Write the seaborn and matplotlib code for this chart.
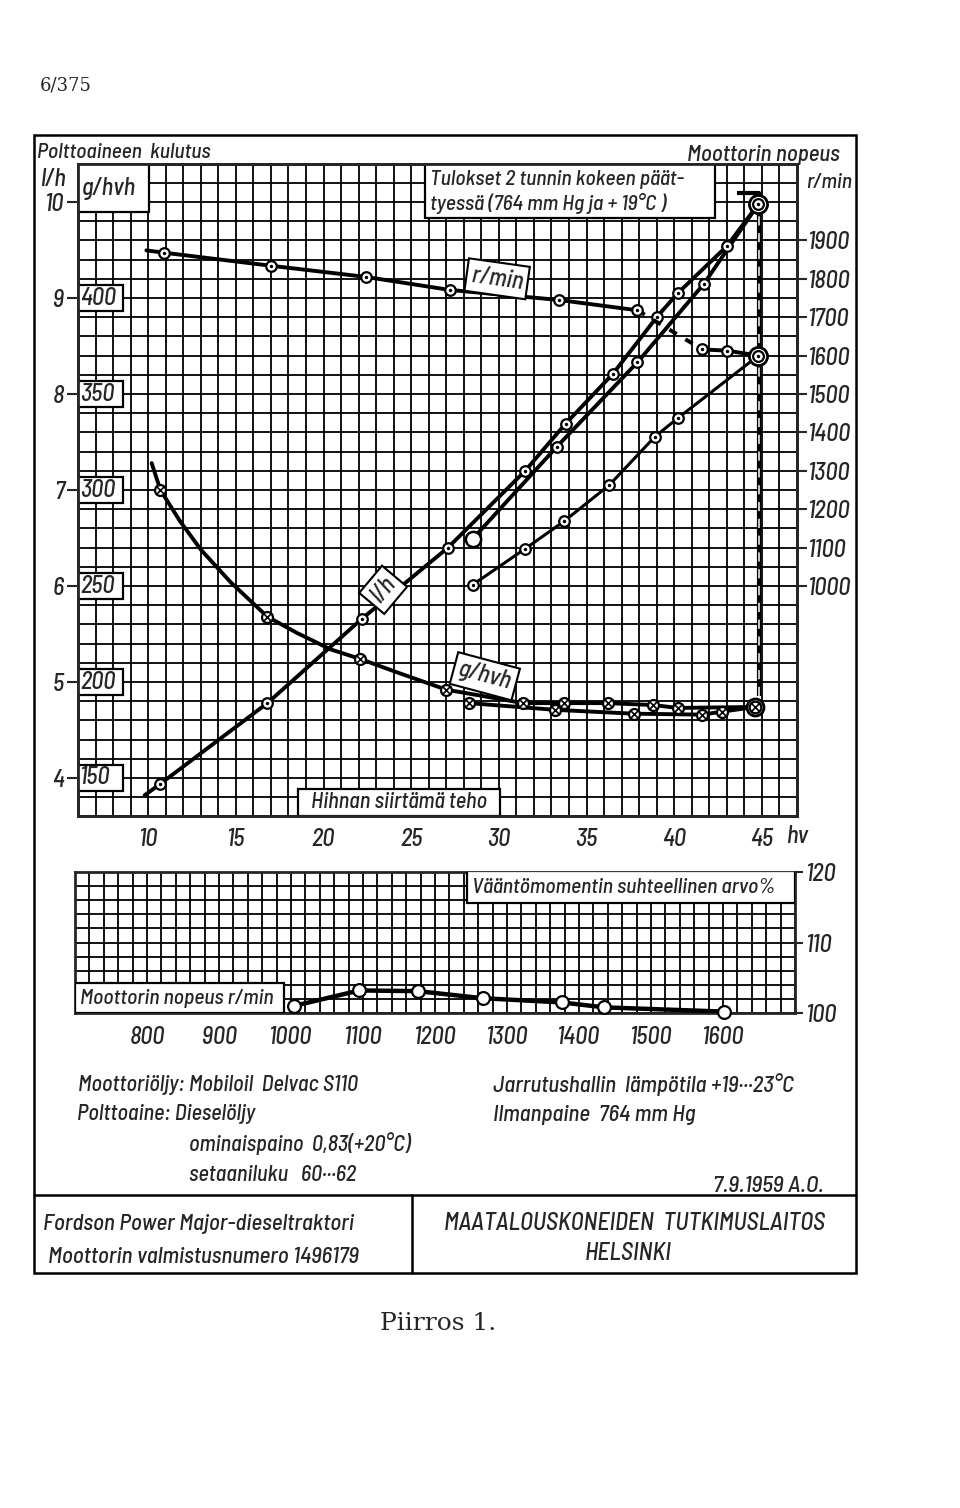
import numpy as np
import pandas as pd
import matplotlib
matplotlib.use("Agg")
import matplotlib.pyplot as plt
import seaborn as sns
from matplotlib import font_manager
from matplotlib.patches import Rectangle
from matplotlib.lines import Line2D

sns.set_style("white")

# pick a narrow lettering face that is installed
installed = {f.name for f in font_manager.fontManager.ttflist}
FAMILY = 'DejaVu Sans'
for name in ['Barlow Semi Condensed', 'Barlow Condensed', 'Archivo Narrow', 'Liberation Sans Narrow']:
    if name in installed:
        FAMILY = name
        break
STRETCH = 'condensed' if FAMILY == 'DejaVu Sans' else 'normal'

plt.rcParams['font.family'] = [FAMILY, 'DejaVu Sans']
plt.rcParams['font.style'] = 'italic'
plt.rcParams['font.weight'] = 'medium'
plt.rcParams['font.stretch'] = STRETCH
plt.rcParams['axes.unicode_minus'] = False

# ---- data ----
# fuel l/h, governed range (first point = start of drawn line)
lh_hv = [9.8, 10.7, 16.8, 22.2, 27.1, 31.5, 33.8, 36.5, 39.0, 40.2, 43.0, 44.8]
lh_val = [3.82, 3.94, 4.78, 5.66, 6.40, 7.20, 7.69, 8.21, 8.80, 9.05, 9.54, 9.98]
# fuel l/h, full throttle below rated speed
lh_lug_hv = [28.5, 33.3, 37.9, 41.7, 44.8]
lh_lug_val = [6.49, 7.45, 8.33, 9.15, 9.98]

# specific consumption g/hvh (governed), extra points trace the drawn curve
g_hv = [10.2, 10.7, 11.8, 13.0, 14.7, 16.8, 18.5, 20.4, 22.1, 24.2, 27.0, 31.4, 33.7, 36.2, 38.8, 40.2, 44.6]
g_val = [314, 300, 284, 269, 252, 234, 225.5, 217, 212, 205, 196, 189, 189, 189, 188, 186.5, 187]
g_marked = [1, 5, 8, 10, 11, 12, 13, 14, 15, 16]
g_lug_hv = [28.3, 33.2, 37.7, 41.6, 42.7, 44.6]
g_lug_val = [189, 185.5, 183.5, 183, 184.5, 187]

# engine speed r/min
rpm_hv = [9.9, 10.9, 17.0, 22.4, 27.2, 33.4, 37.9, 41.6, 43.0, 44.8]
rpm_val = [1874, 1868, 1834, 1805, 1771, 1745, 1718, 1616, 1613, 1600]
rpm_lug_hv = [28.5, 31.5, 33.7, 36.3, 38.9, 40.2, 44.8]
rpm_lug_val = [1003, 1097, 1168, 1263, 1389, 1437, 1600]

# relative torque %
tq_rpm = [1004, 1095, 1176, 1266, 1376, 1435, 1601]
tq_val = [101.0, 103.2, 103.1, 102.1, 101.5, 100.8, 100.2]

hv_ticks = [10, 15, 20, 25, 30, 35, 40, 45]
lh_ticks = [4, 5, 6, 7, 8, 9, 10]
g_ticks = [150, 200, 250, 300, 350, 400]
rpm_ticks = [1000, 1100, 1200, 1300, 1400, 1500, 1600, 1700, 1800, 1900]
tq_rpm_ticks = [800, 900, 1000, 1100, 1200, 1300, 1400, 1500, 1600]
tq_ticks = [100, 110, 120]

FT = 17.5  # numbers
FS = 16.5  # lettering
FB = 15.5  # lettering inside boxes
W, H = 960, 1508

fig = plt.figure(figsize=(9.6, 15.08), dpi=100)
fig.patch.set_facecolor('white')

def fx(px):
    return px / W

def fy(py):
    return 1 - py / H

def g2lh(g):
    return (np.asarray(g) + 50) / 50.0

def box(a, x0, y0, w, h, z=6, lw=1.6):
    a.add_patch(Rectangle((x0, y0), w, h, facecolor='white', edgecolor='black',
                          lw=lw, zorder=z, clip_on=True))

# ---------- main chart ----------
ax = fig.add_axes([fx(78), fy(816.4), 719 / W, 652.8 / H])
ax.set_xlim(6, 47)
ax.set_ylim(3.6, 10.4)
ax.set_xticks(np.arange(6, 48, 1), minor=True)
ax.set_yticks(np.arange(3.6, 10.41, 0.2), minor=True)
ax.set_xticks(hv_ticks)
ax.set_xticklabels([str(t) for t in hv_ticks])
ax.set_yticks(lh_ticks)
ax.set_yticklabels([str(t) for t in lh_ticks])
ax.set_axisbelow(True)
ax.grid(which='both', color='black', lw=1.3)
ax.tick_params(which='minor', length=0)
ax.tick_params(axis='x', which='major', length=7, width=1.5, labelsize=FT, pad=1)
ax.tick_params(axis='y', which='major', length=8, width=1.5, labelsize=FT, pad=2)
for s in ax.spines.values():
    s.set_linewidth(2)
ax.set_xlabel('')
ax.set_ylabel('')

LW = 2.8
# l/h
sns.lineplot(x=lh_hv, y=lh_val, sort=False, estimator=None, color='black', lw=LW, ax=ax, zorder=3)
sns.lineplot(x=lh_lug_hv, y=lh_lug_val, sort=False, estimator=None, color='black', lw=LW, ax=ax, zorder=3)
# g/hvh
sns.lineplot(x=g_hv, y=g2lh(g_val), sort=False, estimator=None, color='black', lw=LW, ax=ax, zorder=3)
sns.lineplot(x=g_lug_hv, y=g2lh(g_lug_val), sort=False, estimator=None, color='black', lw=LW, ax=ax, zorder=3)

def dot_marks(a, xs, ys, s=58):
    a.scatter(xs, ys, s=s, facecolor='white', edgecolor='black', lw=1.6, zorder=7)
    a.scatter(xs, ys, s=6, color='black', lw=0, zorder=8)

def cross_marks(a, xs, ys, s=62):
    a.scatter(xs, ys, s=s, facecolor='white', edgecolor='black', lw=1.6, zorder=7)
    a.scatter(xs, ys, s=s * 0.45, marker='x', color='black', lw=1.2, zorder=8)

dot_marks(ax, lh_hv[1:-1], lh_val[1:-1])
dot_marks(ax, lh_lug_hv[1:-1], lh_lug_val[1:-1])
ax.scatter(lh_lug_hv[:1], lh_lug_val[:1], s=120, facecolor='white', edgecolor='black', lw=1.8, zorder=7)
ax.scatter(lh_hv[-1:], lh_val[-1:], s=170, facecolor='white', edgecolor='black', lw=2, zorder=7)
dot_marks(ax, lh_hv[-1:], lh_val[-1:], s=60)

cross_marks(ax, [g_hv[i] for i in g_marked[:-1]], g2lh([g_val[i] for i in g_marked[:-1]]))
cross_marks(ax, g_lug_hv[:-1], g2lh(g_lug_val[:-1]))
ax.scatter(g_hv[-1:], g2lh(g_val[-1:]), s=150, facecolor='white', edgecolor='black', lw=2, zorder=7)
cross_marks(ax, g_hv[-1:], g2lh(g_val[-1:]), s=70)

# vertical line at max power
ax.plot([43.6, 44.85, 44.85], [10.09, 10.09, 4.85], color='black', lw=3, zorder=4,
        solid_capstyle='butt')
ax.plot([44.85, 44.85], [4.85, 10.0], color='white', lw=1.1, zorder=4,
        dashes=(6, 5))

# g/hvh value boxes on the left
for t in g_ticks:
    l = g2lh(t)
    box(ax, 6.0, l - 0.135, 2.55, 0.27)
    ax.text(6.12, l, str(t), ha='left', va='center', fontsize=FT, zorder=9)
box(ax, 6.0, 9.9, 4.05, 0.6)
ax.text(6.2, 10.14, 'g/hvh', ha='left', va='center', fontsize=FS + 1, zorder=9)

# Tulokset box
box(ax, 25.8, 9.83, 16.5, 0.7)
ax.text(26.05, 10.23, 'Tulokset 2 tunnin kokeen päät-', ha='left', va='center', fontsize=FB, zorder=9)
ax.text(26.05, 9.98, 'tyessä (764 mm Hg ja + 19°C )', ha='left', va='center', fontsize=FB, zorder=9)

# Hihnan siirtämä teho
box(ax, 18.55, 3.6, 11.5, 0.29)
ax.text(24.3, 3.75, 'Hihnan siirtämä teho', ha='center', va='center', fontsize=FB + 0.5, zorder=9)

# curve labels
ax.text(23.4, 5.96, 'l/h', ha='center', va='center', fontsize=FS + 1, rotation=50, zorder=9,
        bbox=dict(boxstyle='square,pad=0.2', fc='white', ec='black', lw=1.5))
ax.text(29.2, 5.06, 'g/hvh', ha='center', va='center', fontsize=FS + 1, rotation=-15, zorder=9,
        bbox=dict(boxstyle='square,pad=0.2', fc='white', ec='black', lw=1.5))

# r/min on twin axis
ax2 = ax.twinx()
ax2.set_ylim(400, 2100)
ax2.set_yticks(rpm_ticks)
ax2.set_yticklabels([str(t) for t in rpm_ticks])
ax2.tick_params(axis='y', length=7, width=1.5, labelsize=FT, pad=1)
ax2.set_ylabel('')
for s in ax2.spines.values():
    s.set_linewidth(2)
sns.lineplot(x=rpm_hv[:7], y=rpm_val[:7], sort=False, estimator=None, color='black', lw=LW, ax=ax2, zorder=3)
sns.lineplot(x=rpm_hv[6:8], y=rpm_val[6:8], sort=False, estimator=None, color='black', lw=LW, ax=ax2,
             zorder=3, dashes=False, linestyle=(0, (2.2, 2.6)))
sns.lineplot(x=rpm_hv[7:], y=rpm_val[7:], sort=False, estimator=None, color='black', lw=LW, ax=ax2, zorder=3)
sns.lineplot(x=rpm_lug_hv, y=rpm_lug_val, sort=False, estimator=None, color='black', lw=2.2, ax=ax2, zorder=3)
dot_marks(ax2, rpm_hv[1:-1], rpm_val[1:-1])
dot_marks(ax2, rpm_lug_hv[:-1], rpm_lug_val[:-1])
ax2.scatter(rpm_hv[-1:], rpm_val[-1:], s=170, facecolor='white', edgecolor='black', lw=2, zorder=7)
dot_marks(ax2, rpm_hv[-1:], rpm_val[-1:], s=60)
ax2.text(29.9, 1800, 'r/min', ha='center', va='center', fontsize=FS + 1, rotation=-8, zorder=9,
         bbox=dict(boxstyle='square,pad=0.2', fc='white', ec='black', lw=1.5))

# ---------- torque chart ----------
axt = fig.add_axes([fx(75), fy(1013), 720 / W, 141 / H])
axt.set_xlim(700, 1700)
axt.set_ylim(100, 120)
axt.set_xticks(np.arange(700, 1701, 20), minor=True)
axt.set_yticks(np.arange(100, 120.1, 2), minor=True)
axt.set_xticks(tq_rpm_ticks)
axt.set_xticklabels([str(t) for t in tq_rpm_ticks])
axt.yaxis.tick_right()
axt.set_yticks(tq_ticks)
axt.set_yticklabels([str(t) for t in tq_ticks])
axt.set_axisbelow(True)
axt.grid(which='both', color='black', lw=1.3)
axt.tick_params(which='minor', length=0)
axt.tick_params(axis='x', which='major', length=6, width=1.5, labelsize=FT, pad=3)
axt.tick_params(axis='y', which='major', length=6, width=1.5, labelsize=FT, pad=2)
for s in axt.spines.values():
    s.set_linewidth(2)
sns.lineplot(x=tq_rpm, y=tq_val, sort=False, estimator=None, color='black', lw=3.2, ax=axt, zorder=3)
axt.scatter(tq_rpm, tq_val, s=85, facecolor='white', edgecolor='black', lw=1.6, zorder=7, clip_on=False)
axt.set_xlabel('')
axt.set_ylabel('')
box(axt, 700, 100, 290, 4.26)
axt.text(707, 102.1, 'Moottorin nopeus r/min', ha='left', va='center', fontsize=FB, zorder=9)
box(axt, 1244, 115.6, 456, 4.5)
axt.text(1252, 117.75, 'Vääntömomentin suhteellinen arvo%', ha='left', va='center', fontsize=FB, zorder=9)

# ---------- figure-level lettering and frame ----------
def T(x, y, s, ha='left', fs=FS, **kw):
    fig.text(fx(x), fy(y), s, ha=ha, va='center', fontsize=fs, **kw)

T(37, 153, 'Polttoaineen  kulutus', fs=15.5)
T(40, 180, 'l/h', fs=FS + 1)
T(840, 155, 'Moottorin nopeus', ha='right', fs=16.5)
T(806, 183, 'r/min', fs=15.5)
T(786, 836, 'hv', fs=FT)

T(78, 1085, 'Moottoriöljy: Mobiloil  Delvac S110', fs=16)
T(77, 1114, 'Polttoaine: Dieselöljy', fs=16)
T(189, 1144, 'ominaispaino  0,83(+20°C)', fs=16)
T(189, 1175, 'setaaniluku   60\u00b7\u00b7\u00b762', fs=16)
T(493, 1085, 'Jarrutushallin  lämpötila +19\u00b7\u00b7\u00b723°C')
T(493, 1115, 'Ilmanpaine  764 mm Hg')
T(713, 1186, '7.9.1959 A.O.', fs=17)
T(43, 1224, 'Fordson Power Major-dieseltraktori')
T(48, 1257, 'Moottorin valmistusnumero 1496179')
T(635, 1224, 'MAATALOUSKONEIDEN  TUTKIMUSLAITOS', ha='center', fs=17.5)
T(628, 1254, 'HELSINKI', ha='center', fs=17.5)

fig.text(fx(438), fy(1323), 'Piirros 1.', ha='center', va='center', fontsize=18,
         family='DejaVu Serif', style='normal', weight='normal')
fig.text(fx(40), fy(86), '6/375', ha='left', va='center', fontsize=13,
         family='DejaVu Serif', style='normal', weight='normal')

fig.add_artist(Rectangle((fx(34), fy(1273)), (856 - 34) / W, (1273 - 135) / H,
                         transform=fig.transFigure, fill=False, ec='black', lw=1.8))
fig.add_artist(Line2D([fx(34), fx(856)], [fy(1195), fy(1195)], transform=fig.transFigure,
                      color='black', lw=1.8))
fig.add_artist(Line2D([fx(412), fx(412)], [fy(1195), fy(1273)], transform=fig.transFigure,
                      color='black', lw=1.8))

fig.savefig('out.png', dpi=100, facecolor='white')
